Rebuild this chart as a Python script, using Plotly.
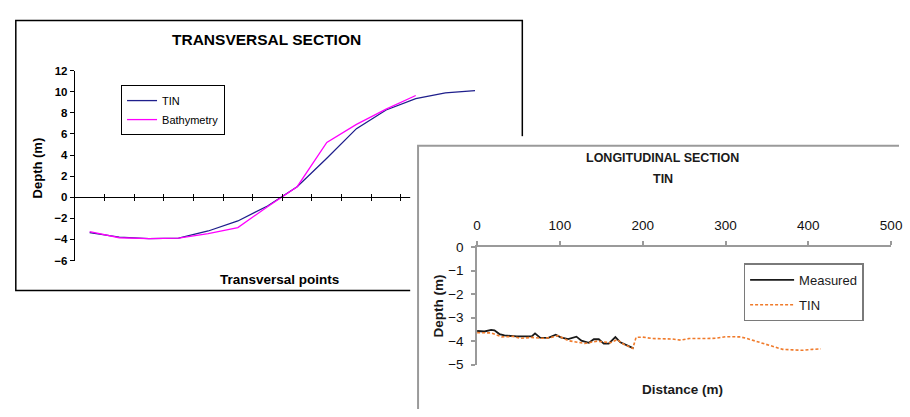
import plotly.graph_objects as go

W, H = 910, 417
FONT = "Liberation Sans, Arial, sans-serif"

# ---------------- Data: transversal section ----------------
trans_points = list(range(1, 15))
trans_tin = [-3.35, -3.78, -3.92, -3.88, -3.2, -2.25, -0.83, 1.0, 3.7, 6.5, 8.27, 9.34, 9.89, 10.1]
trans_bath_points = list(range(1, 13))
trans_bath = [-3.27, -3.84, -3.93, -3.87, -3.45, -2.87, -0.9, 1.0, 5.2, 6.9, 8.35, 9.64]
trans_yticks = [-6, -4, -2, 0, 2, 4, 6, 8, 10, 12]

# ---------------- Data: longitudinal section ----------------
meas_x = [0, 9, 17, 21, 27, 33, 48, 66, 70, 76, 86, 95, 101, 110, 120, 126, 135, 141, 147,
          153, 159, 167, 173, 179, 189]
meas_y = [-3.57, -3.59, -3.52, -3.54, -3.70, -3.76, -3.80, -3.80, -3.67, -3.85, -3.86, -3.73,
          -3.84, -3.91, -3.81, -3.98, -4.07, -3.92, -3.92, -4.11, -4.11, -3.83, -4.05, -4.16, -4.31]
tin_x = [0, 17, 30, 44, 52, 66, 78, 88, 98, 110, 130, 145, 161, 169, 177, 188, 192, 200, 212,
         224, 236, 246, 256, 272, 288, 300, 318, 326, 337, 349, 361, 369, 381, 393, 405, 415]
tin_y = [-3.64, -3.65, -3.82, -3.80, -3.88, -3.84, -3.88, -3.86, -3.77, -3.98, -4.10, -4.00,
         -4.07, -3.94, -4.13, -4.31, -3.84, -3.83, -3.89, -3.90, -3.91, -3.96, -3.89, -3.89,
         -3.88, -3.81, -3.82, -3.89, -4.00, -4.13, -4.27, -4.35, -4.37, -4.39, -4.35, -4.33]
long_xticks = [0, 100, 200, 300, 400, 500]
long_yticks = [0, -1, -2, -3, -4, -5]


def px(x):
    return x / W


def py(y):
    return 1 - y / H


fig = go.Figure()

# Chart 1 traces
fig.add_trace(go.Scatter(x=trans_points, y=trans_tin, mode="lines", name="TIN",
                         line=dict(color="#1f1f8c", width=1.3), xaxis="x", yaxis="y",
                         legend="legend"))
fig.add_trace(go.Scatter(x=trans_bath_points, y=trans_bath, mode="lines", name="Bathymetry",
                         line=dict(color="#ff00ff", width=1.3), xaxis="x", yaxis="y",
                         legend="legend"))
# overlay axis for the upper half of crossing ticks
fig.add_trace(go.Scatter(x=[None], y=[None], mode="markers", showlegend=False,
                         hoverinfo="skip", xaxis="x4", yaxis="y"))
# cover subplot (chart 2 sheet)
fig.add_trace(go.Scatter(x=[None], y=[None], mode="markers", showlegend=False,
                         hoverinfo="skip", xaxis="x2", yaxis="y2"))
# Chart 2 traces
fig.add_trace(go.Scatter(x=meas_x, y=meas_y, mode="lines", name="Measured",
                         line=dict(color="#1a1a1a", width=1.8), xaxis="x3", yaxis="y3",
                         legend="legend2", legendgroup="m"))
fig.add_trace(go.Scatter(x=tin_x, y=tin_y, mode="lines", name="TIN",
                         line=dict(color="#f07a2a", width=1.6, dash="3px,2px"),
                         xaxis="x3", yaxis="y3", legend="legend2", legendgroup="t"))

x1_dom = [px(72), px(494)]
y1_dom = [py(263), py(66)]
zero_pos = py(197)
tick_vals_1 = [k + 0.5 for k in range(1, 12)]

axis_common = dict(showgrid=False, zeroline=False)

fig.update_layout(
    width=W, height=H,
    margin=dict(l=0, r=0, t=0, b=0),
    paper_bgcolor="white", plot_bgcolor="white",
    font=dict(family=FONT, color="#000"),
    xaxis=dict(domain=x1_dom, range=[0.5, 14.5], anchor="free", position=zero_pos,
               showline=True, linecolor="#000", linewidth=1,
               ticks="outside", ticklen=3, tickwidth=1, tickcolor="#000",
               tickmode="array", tickvals=tick_vals_1, showticklabels=False, **axis_common),
    xaxis4=dict(overlaying="x", range=[0.5, 14.5], anchor="free", position=zero_pos,
                showline=False, ticks="inside", ticklen=3, tickwidth=1, tickcolor="#000",
                tickmode="array", tickvals=tick_vals_1, showticklabels=False, **axis_common),
    yaxis=dict(domain=y1_dom, range=[-6, 12], anchor="x", showline=True, linecolor="#000",
               linewidth=1, ticks="outside", ticklen=4, tickcolor="#000",
               tickmode="array", tickvals=trans_yticks,
               tickfont=dict(size=11.5, weight="bold", family=FONT, color="#000"),
               **axis_common),
    xaxis2=dict(domain=[px(413), 1], range=[413, 910], anchor="y2", showline=False,
                showticklabels=False, ticks="", **axis_common),
    yaxis2=dict(domain=[0, py(134)], range=[417, 134], anchor="x2", showline=False,
                showticklabels=False, ticks="", **axis_common),
    xaxis3=dict(domain=[px(481), px(902)], range=[0, 500], anchor="y3", side="top",
                showline=True, linecolor="#9a9a9a", linewidth=1.5,
                ticks="outside", ticklen=4, tickwidth=1.5, tickcolor="#9a9a9a",
                tickmode="array", tickvals=long_xticks, ticklabelstandoff=6,
                ticklabeloverflow="allow",
                tickfont=dict(size=13.5, family=FONT, color="#111"), **axis_common),
    yaxis3=dict(domain=[py(371), py(249)], range=[-5, 0], anchor="x3",
                showline=True, linecolor="#9a9a9a", linewidth=1.5,
                ticks="outside", ticklen=4, tickwidth=1.5, tickcolor="#9a9a9a",
                tickmode="array", tickvals=long_yticks, ticklabelstandoff=5,
                tickfont=dict(size=13.5, family=FONT, color="#111"), **axis_common),
    legend=dict(x=px(119), y=py(81), xanchor="left", yanchor="top", bgcolor="white",
                bordercolor="#000", borderwidth=1, itemwidth=30,
                font=dict(size=11, family=FONT, color="#000")),
    legend2=dict(x=px(752), y=py(266), xanchor="left", yanchor="top", bgcolor="white",
                 bordercolor="#7a7a7a", borderwidth=1.5, itemwidth=44, tracegroupgap=5,
                 font=dict(size=13, family=FONT, color="#1a1a1a")),
    shapes=[
        # chart 1 sheet border
        dict(type="rect", xref="paper", yref="paper", x0=px(12), x1=px(527),
             y0=py(294), y1=py(14), line=dict(color="#000", width=1.5), layer="below"),
        # chart 2 sheet border (drawn on cover subplot)
        dict(type="rect", xref="x2", yref="y2", x0=421, x1=920, y0=144, y1=430,
             line=dict(color="#9a9a9a", width=2), layer="below"),
    ],
    annotations=[
        dict(text="<b>TRANSVERSAL SECTION</b>", x=px(267), y=py(34), xref="paper",
             yref="paper", showarrow=False, font=dict(size=15.5, family=FONT, color="#000"),
             xanchor="center", yanchor="middle"),
        dict(text="<b>Depth (m)</b>", x=px(35), y=py(167), xref="paper", yref="paper",
             showarrow=False, textangle=-90, font=dict(size=13, family=FONT, color="#000"),
             xanchor="center", yanchor="middle"),
        dict(text="<b>Transversal points</b>", x=px(280), y=py(283), xref="paper",
             yref="paper", showarrow=False, font=dict(size=13.5, family=FONT, color="#000"),
             xanchor="center", yanchor="middle"),
        dict(text="<b>LONGITUDINAL SECTION</b>", x=px(670), y=py(157), xref="paper",
             yref="paper", showarrow=False, font=dict(size=12.5, family=FONT, color="#1a1a1a"),
             xanchor="center", yanchor="middle"),
        dict(text="<b>TIN</b>", x=px(670), y=py(178), xref="paper", yref="paper",
             showarrow=False, font=dict(size=12.5, family=FONT, color="#1a1a1a"),
             xanchor="center", yanchor="middle"),
        dict(text="<b>Depth (m)</b>", x=px(442), y=py(310), xref="paper", yref="paper",
             showarrow=False, textangle=-90, font=dict(size=13.5, family=FONT, color="#1a1a1a"),
             xanchor="center", yanchor="middle"),
        dict(text="<b>Distance (m)</b>", x=px(690), y=py(397), xref="paper", yref="paper",
             showarrow=False, font=dict(size=13.5, family=FONT, color="#1a1a1a"),
             xanchor="center", yanchor="middle"),
    ],
)

fig.write_html("out.html")
